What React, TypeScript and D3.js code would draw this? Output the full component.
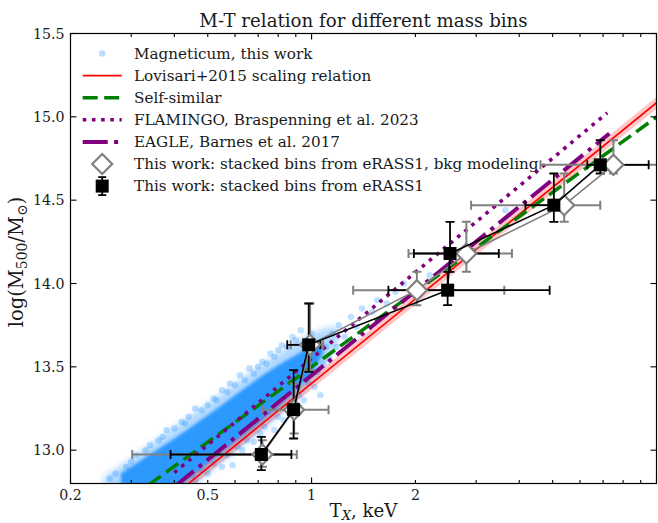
import React, { useEffect, useRef } from "react";
import * as d3 from "d3";

const W = 658;
const H = 523;

// Magneticum cloud: dense core and lighter halo (T in keV, log M)
const coreT = [0.28, 0.32, 0.4, 0.5, 0.6, 0.7, 0.8, 0.9, 1.0, 1.08];
const coreHi = [12.86, 12.94, 13.07, 13.21, 13.33, 13.43, 13.51, 13.57, 13.62, 13.64];
const coreLo = [12.6, 12.62, 12.76, 12.92, 13.05, 13.16, 13.26, 13.36, 13.46, 13.58];
const haloT = [0.25, 0.3, 0.4, 0.5, 0.6, 0.7, 0.8, 0.9, 1.0, 1.1, 1.2];
const haloHi = [12.84, 12.95, 13.14, 13.28, 13.4, 13.5, 13.58, 13.65, 13.7, 13.73, 13.74];
const haloLo = [12.6, 12.6, 12.7, 12.86, 12.99, 13.1, 13.2, 13.3, 13.4, 13.52, 13.66];
// loose Magneticum points around the cloud
const magT = [0.26, 0.29, 0.31, 0.33, 0.37, 0.38, 0.42, 0.44, 0.46, 0.52, 0.55, 0.58, 0.62, 0.66, 0.72, 0.76, 0.82, 0.88, 0.93,
  0.42, 0.46, 0.5, 0.55, 0.59, 0.63, 0.68, 0.78, 0.83, 0.88, 0.95, 1.02, 1.06,
  1.1, 1.12, 1.15, 1.18, 1.2, 1.25, 1.3, 1.35, 1.4, 1.5, 1.55, 1.65, 1.75, 1.85, 2.0, 2.2, 3.65,
  0.27, 0.3, 0.34, 0.36, 0.4, 0.43, 0.48, 0.5, 0.53, 0.57, 0.6, 0.64, 0.68, 0.7, 0.74, 0.78, 0.8, 0.85, 0.9, 1.0,
  0.38, 0.45, 0.48, 0.52, 0.57, 0.61, 0.65, 0.71, 0.73, 0.8, 0.86, 0.92, 0.98, 1.04, 1.08];
const magM = [12.83, 12.9, 12.97, 13.0, 13.08, 13.12, 13.17, 13.2, 13.25, 13.31, 13.36, 13.4, 13.45, 13.49, 13.53, 13.58, 13.63, 13.68, 13.72,
  12.84, 12.82, 12.86, 12.9, 12.91, 13.0, 13.05, 13.12, 13.18, 13.22, 13.3, 13.38, 13.33,
  13.62, 13.55, 13.7, 13.62, 13.75, 13.68, 13.8, 13.74, 13.85, 13.83, 13.9, 13.88, 13.95, 14.0, 13.98, 14.05, 14.44,
  12.86, 12.93, 13.03, 13.06, 13.13, 13.16, 13.24, 13.27, 13.3, 13.35, 13.39, 13.42, 13.46, 13.5, 13.52, 13.56, 13.6, 13.62, 13.66, 13.7,
  12.82, 12.85, 12.88, 12.92, 12.97, 13.02, 13.06, 13.1, 13.14, 13.2, 13.26, 13.33, 13.4, 13.47, 13.52];

// relations: end points
const lovT = [0.3, 10.5];
const lovM = [12.52, 15.12];
const lovErr = 0.035;
const ssT = [0.3, 10.5];
const ssM = [12.716, 15.03];
const flamT = [0.4, 7.2];
const flamM = [12.865, 15.024];
const eagleT = [0.4, 7.3];
const eagleM = [12.78, 14.9];

// stacked bins, eRASS1, bkg modeling (grey diamonds)
const gT = [0.72, 0.89, 0.99, 2.02, 2.81, 5.4, 7.5];
const gM = [12.974, 13.243, 13.632, 13.96, 14.18, 14.47, 14.712];
const gTlo = [0.302, 0.719, 0.87, 1.32, 1.91, 2.9, 4.61];
const gThi = [0.906, 1.12, 1.08, 3.62, 3.81, 6.87, 10.4];
const gMlo = [12.9, 13.1, 13.48, 13.87, 14.07, 14.37, 14.66];
const gMhi = [13.06, 13.4, 13.88, 14.07, 14.37, 14.66, 14.86];

// stacked bins, eRASS1 (black squares)
const bT = [0.715, 0.887, 0.981, 2.48, 2.52, 5.04, 6.87];
const bM = [12.974, 13.243, 13.632, 13.96, 14.18, 14.47, 14.712];
const bTlo = [0.39, 0.85, 0.85, 1.67, 1.98, 4.17, 6.3];
const bThi = [0.874, 0.93, 1.06, 4.9, 3.49, 5.5, 9.49];
const bMlo = [12.88, 13.07, 13.47, 13.87, 14.07, 14.37, 14.66];
const bMhi = [13.08, 13.48, 13.88, 14.07, 14.37, 14.66, 14.86];

const xLabels = [0.2, 0.5, 1, 2];
const xMajor = [1, 10];
const xMinor = [0.2, 0.3, 0.4, 0.5, 0.6, 0.7, 0.8, 0.9, 2, 3, 4, 5, 6, 7, 8, 9];
const yTicks = [13.0, 13.5, 14.0, 14.5, 15.0, 15.5];

const legendLabels = [
  "Magneticum, this work",
  "Lovisari+2015 scaling relation",
  "Self-similar",
  "FLAMINGO, Braspenning et al. 2023",
  "EAGLE, Barnes et al. 2017",
  "This work: stacked bins from eRASS1, bkg modeling",
  "This work: stacked bins from eRASS1",
];

const FONT = "'DejaVu Serif', serif";
const BLUE = "#1e90ff";
const PURPLE = "#800080";
const GREY = "#808080";
const DOTS = "3.6,5.6";
const DASHDOT = "25,6.4,4,6.4";

function drawErrorbars(g, x, y, T, Mv, Tlo, Thi, Mlo, Mhi, color, width) {
  const cap = 4.5;
  T.forEach((t, i) => {
    const cx = x(t), cy = y(Mv[i]);
    const x0 = x(Tlo[i]), x1 = x(Thi[i]), y0 = y(Mlo[i]), y1 = y(Mhi[i]);
    const seg = (a, b, c, d) => {
      g.append("line").attr("x1", a).attr("y1", b).attr("x2", c).attr("y2", d)
        .attr("stroke", color).attr("stroke-width", width);
    };
    seg(x0, cy, x1, cy);
    seg(cx, y0, cx, y1);
    seg(x0, cy - cap, x0, cy + cap);
    seg(x1, cy - cap, x1, cy + cap);
    seg(cx - cap, y0, cx + cap, y0);
    seg(cx - cap, y1, cx + cap, y1);
  });
}

export default function App() {
  const ref = useRef(null);

  useEffect(() => {
    const svg = d3.select(ref.current);
    svg.selectAll("*").remove();

    const left = 70.5, right = 656.5, top = 33.5, bottom = 483.5;
    const x = d3.scaleLog().domain([0.2, 10]).range([left, right]);
    const y = d3.scaleLinear().domain([12.8, 15.5]).range([bottom, top]);

    const defs = svg.append("defs");
    defs.append("clipPath").attr("id", "plotclip")
      .append("rect").attr("x", left).attr("y", top).attr("width", right - left).attr("height", bottom - top);
    defs.append("filter").attr("id", "softA").attr("x", "-20%").attr("y", "-20%").attr("width", "140%").attr("height", "140%")
      .append("feGaussianBlur").attr("stdDeviation", 3);
    defs.append("filter").attr("id", "softB").attr("x", "-20%").attr("y", "-20%").attr("width", "140%").attr("height", "140%")
      .append("feGaussianBlur").attr("stdDeviation", 1.6);

    const plot = svg.append("g").attr("clip-path", "url(#plotclip)");

    // Magneticum cloud
    const band = (T, lo, hi) => d3.area()
      .x((d, i) => x(T[i]))
      .y0((d, i) => y(lo[i]))
      .y1((d, i) => y(hi[i]))
      .curve(d3.curveMonotoneX)(T);
    plot.append("path").attr("d", band(haloT, haloLo, haloHi)).attr("fill", BLUE).attr("opacity", 0.35)
      .attr("filter", "url(#softA)");
    plot.append("path").attr("d", band(coreT, coreLo, coreHi)).attr("fill", BLUE).attr("opacity", 0.88)
      .attr("filter", "url(#softB)");
    plot.selectAll(".mag").data(magT).enter().append("circle")
      .attr("cx", (d) => x(d)).attr("cy", (d, i) => y(magM[i]))
      .attr("r", 3.2).attr("fill", BLUE).attr("opacity", 0.28);

    const line = (T, Mv) => d3.line().x((d) => x(d)).y((d, i) => y(Mv[i]))(T);

    // Lovisari band + line
    plot.append("path")
      .attr("d", d3.area().x((d) => x(d)).y0((d, i) => y(lovM[i] - lovErr)).y1((d, i) => y(lovM[i] + lovErr))(lovT))
      .attr("fill", "#ff0000").attr("opacity", 0.22);
    plot.append("path").attr("d", line(lovT, lovM)).attr("stroke", "#ff0000").attr("stroke-width", 1.6).attr("fill", "none");

    plot.append("path").attr("d", line(ssT, ssM)).attr("stroke", "green").attr("stroke-width", 3.5)
      .attr("stroke-dasharray", "15,6.5").attr("fill", "none");
    plot.append("path").attr("d", line(flamT, flamM)).attr("stroke", PURPLE).attr("stroke-width", 3.6)
      .attr("stroke-dasharray", DOTS).attr("fill", "none");
    plot.append("path").attr("d", line(eagleT, eagleM)).attr("stroke", PURPLE).attr("stroke-width", 4)
      .attr("stroke-dasharray", DASHDOT).attr("fill", "none");

    // error bars (grey first, then black), then lines and markers
    drawErrorbars(plot, x, y, gT, gM, gTlo, gThi, gMlo, gMhi, GREY, 2);
    drawErrorbars(plot, x, y, bT, bM, bTlo, bThi, bMlo, bMhi, "#000", 1.8);

    plot.append("path").attr("d", line(gT, gM)).attr("stroke", GREY).attr("stroke-width", 1.6).attr("fill", "none");
    const dia = 10;
    plot.selectAll(".dia").data(gT).enter().append("path")
      .attr("d", (d, i) => {
        const cx = x(d), cy = y(gM[i]);
        return `M${cx},${cy - dia}L${cx + dia},${cy}L${cx},${cy + dia}L${cx - dia},${cy}Z`;
      })
      .attr("fill", "#fff").attr("stroke", GREY).attr("stroke-width", 2.2);

    plot.append("path").attr("d", line(bT, bM)).attr("stroke", "#000").attr("stroke-width", 1.6).attr("fill", "none");
    const sq = 6.5;
    plot.selectAll(".sq").data(bT).enter().append("rect")
      .attr("x", (d) => x(d) - sq).attr("y", (d, i) => y(bM[i]) - sq)
      .attr("width", sq * 2).attr("height", sq * 2).attr("fill", "#000");

    // frame
    svg.append("rect").attr("x", left).attr("y", top).attr("width", right - left).attr("height", bottom - top)
      .attr("fill", "none").attr("stroke", "#000").attr("stroke-width", 1.2);

    // ticks (inward, all four sides)
    const tk = svg.append("g").attr("stroke", "#000").attr("stroke-width", 1.1);
    xMinor.forEach((t) => {
      tk.append("line").attr("x1", x(t)).attr("x2", x(t)).attr("y1", bottom).attr("y2", bottom - 3.5);
      tk.append("line").attr("x1", x(t)).attr("x2", x(t)).attr("y1", top).attr("y2", top + 3.5);
    });
    xMajor.forEach((t) => {
      tk.append("line").attr("x1", x(t)).attr("x2", x(t)).attr("y1", bottom).attr("y2", bottom - 6);
      tk.append("line").attr("x1", x(t)).attr("x2", x(t)).attr("y1", top).attr("y2", top + 6);
    });
    yTicks.forEach((v) => {
      tk.append("line").attr("x1", left).attr("x2", left + 6).attr("y1", y(v)).attr("y2", y(v));
      tk.append("line").attr("x1", right).attr("x2", right - 6).attr("y1", y(v)).attr("y2", y(v));
    });

    const txt = svg.append("g").attr("font-family", FONT).attr("fill", "#1a1a1a");
    xLabels.forEach((t) => {
      txt.append("text").attr("x", x(t)).attr("y", bottom + 16).attr("text-anchor", "middle")
        .attr("font-size", 14.2).text(d3.format("~g")(t));
    });
    yTicks.forEach((v) => {
      txt.append("text").attr("x", left - 6).attr("y", y(v) + 5).attr("text-anchor", "end")
        .attr("font-size", 14.2).text(v.toFixed(1));
    });

    // title and axis labels
    txt.append("text").attr("x", (left + right) / 2).attr("y", 26.5).attr("text-anchor", "middle")
      .attr("font-size", 18.2).text("M-T relation for different mass bins");

    const xl = txt.append("text").attr("x", (left + right) / 2).attr("y", 516.5).attr("text-anchor", "middle")
      .attr("font-size", 18.2);
    xl.append("tspan").text("T");
    xl.append("tspan").attr("font-size", 13).attr("font-style", "italic").attr("dy", 3).text("X");
    xl.append("tspan").attr("dy", -3).text(", keV");

    const yl = txt.append("text").attr("transform", `translate(23,262) rotate(-90)`)
      .attr("text-anchor", "middle").attr("font-size", 19.5);
    yl.append("tspan").text("log(M");
    yl.append("tspan").attr("font-size", 14).attr("dy", 3.8).text("500");
    yl.append("tspan").attr("dy", -3.8).text("/M");
    yl.append("tspan").attr("font-size", 14).attr("dy", 3.8).text("\u2299");
    yl.append("tspan").attr("dy", -3.8).text(")");

    // legend
    const lg = svg.append("g");
    const row0 = 53.5, step = 22.1, hx0 = 82.7, hx1 = 121.7, hc = 102.2, tx = 134;
    legendLabels.forEach((lab, i) => {
      const ry = row0 + i * step;
      lg.append("text").attr("x", tx).attr("y", ry + 5.3).attr("font-family", FONT).attr("font-size", 15.2)
        .attr("fill", "#1a1a1a").text(lab);
    });
    let ry = row0;
    lg.append("circle").attr("cx", hc).attr("cy", ry).attr("r", 3.2).attr("fill", BLUE).attr("opacity", 0.3);
    ry += step;
    lg.append("line").attr("x1", hx0).attr("x2", hx1).attr("y1", ry).attr("y2", ry).attr("stroke", "#ff0000").attr("stroke-width", 1.6);
    ry += step;
    lg.append("line").attr("x1", hx0).attr("x2", hx1).attr("y1", ry).attr("y2", ry).attr("stroke", "green")
      .attr("stroke-width", 3.5).attr("stroke-dasharray", "15,6.5");
    ry += step;
    lg.append("line").attr("x1", hx0).attr("x2", hx1).attr("y1", ry).attr("y2", ry).attr("stroke", PURPLE)
      .attr("stroke-width", 3.6).attr("stroke-dasharray", DOTS);
    ry += step;
    lg.append("line").attr("x1", hx0).attr("x2", hx1).attr("y1", ry).attr("y2", ry).attr("stroke", PURPLE)
      .attr("stroke-width", 4).attr("stroke-dasharray", DASHDOT);
    ry += step;
    lg.append("path").attr("d", `M${hc},${ry - dia}L${hc + dia},${ry}L${hc},${ry + dia}L${hc - dia},${ry}Z`)
      .attr("fill", "#fff").attr("stroke", GREY).attr("stroke-width", 2.2);
    ry += step;
    lg.append("line").attr("x1", hc).attr("x2", hc).attr("y1", ry - 9).attr("y2", ry + 9).attr("stroke", "#000").attr("stroke-width", 1.8);
    lg.append("line").attr("x1", hc - 4).attr("x2", hc + 4).attr("y1", ry - 9).attr("y2", ry - 9).attr("stroke", "#000").attr("stroke-width", 1.8);
    lg.append("line").attr("x1", hc - 4).attr("x2", hc + 4).attr("y1", ry + 9).attr("y2", ry + 9).attr("stroke", "#000").attr("stroke-width", 1.8);
    lg.append("rect").attr("x", hc - sq).attr("y", ry - sq).attr("width", sq * 2).attr("height", sq * 2).attr("fill", "#000");
  }, []);

  return (
    <div style={{ position: "absolute", left: 0, top: 0 }}>
      <svg ref={ref} width={W} height={H} style={{ display: "block", background: "#fff" }} />
    </div>
  );
}
